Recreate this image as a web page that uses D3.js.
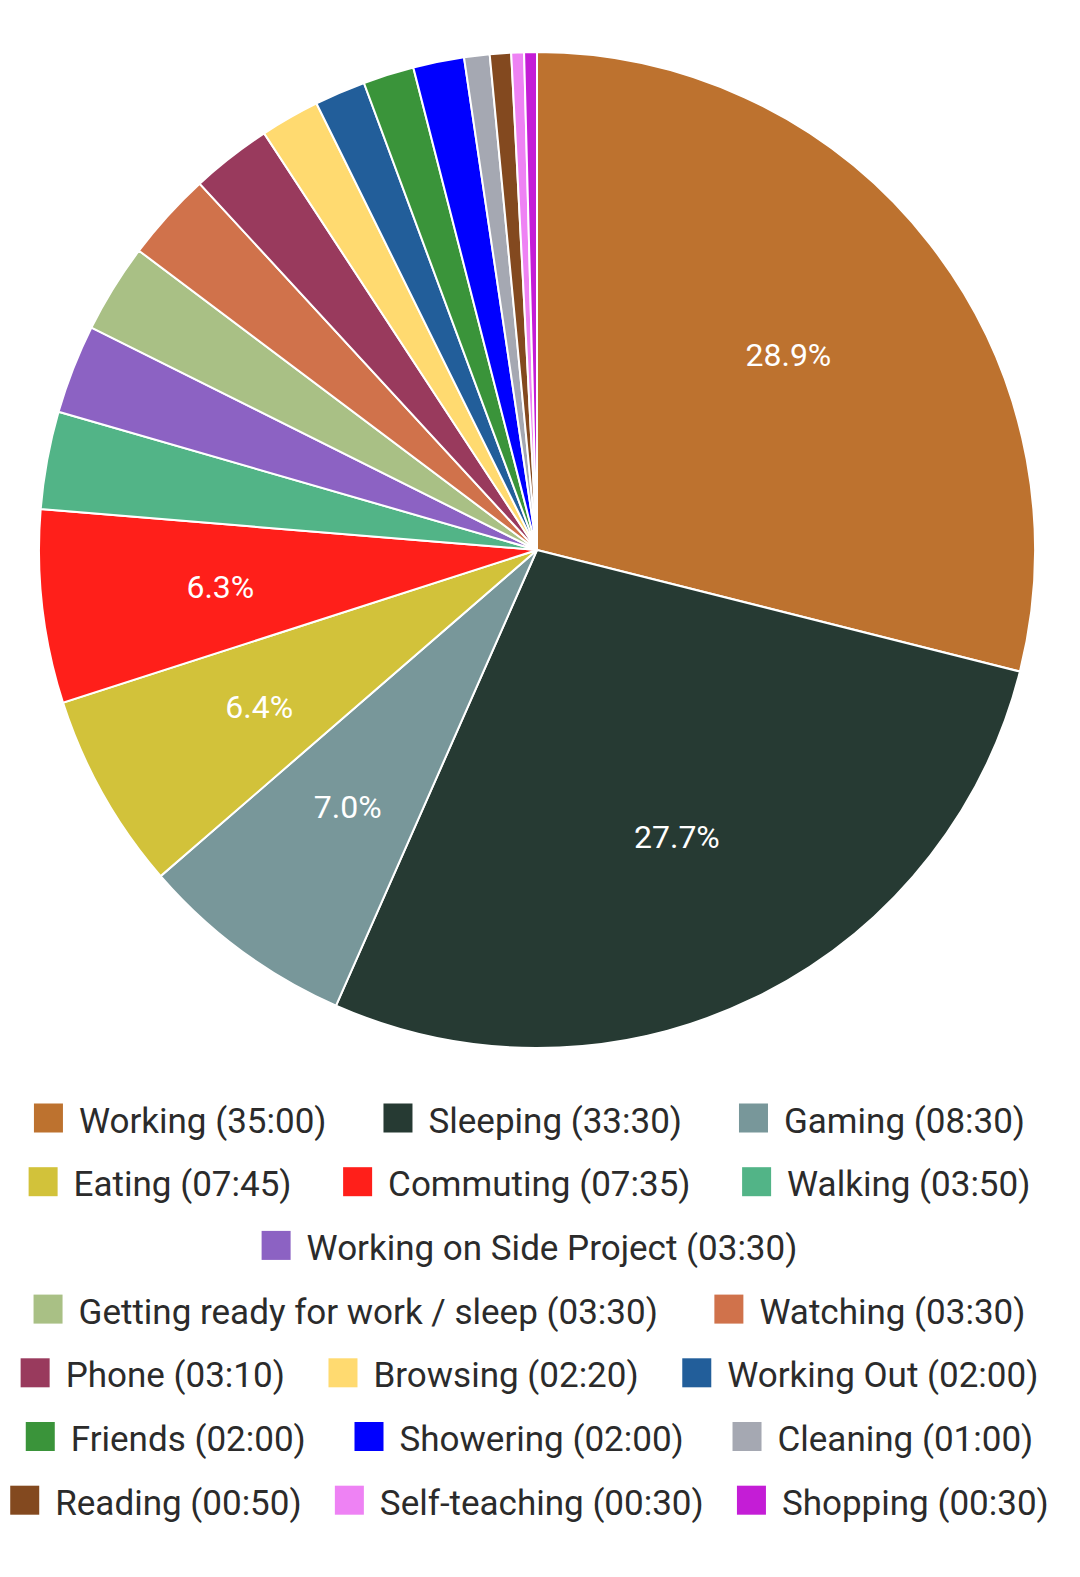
<!DOCTYPE html>
<html>
    <head>
        <meta charset="utf-8">
        <title></title>
        <script src="https://d3js.org/d3.v7.min.js"></script>
        <style>
            body { margin: 0; background: #fff; }
        </style>
    </head>

    <body>
        <div id="my_dataviz"></div>
    </body>

    <script>
        // data (minutes per activity)
        var activities = ["Working", "Sleeping", "Gaming", "Eating", "Commuting", "Walking",
            "Working on Side Project", "Getting ready for work / sleep", "Watching", "Phone",
            "Browsing", "Working Out", "Friends", "Showering", "Cleaning", "Reading",
            "Self-teaching", "Shopping"]
        var durations = ["35:00", "33:30", "08:30", "07:45", "07:35", "03:50",
            "03:30", "03:30", "03:30", "03:10",
            "02:20", "02:00", "02:00", "02:00", "01:00", "00:50",
            "00:30", "00:30"]
        var colors = ["#bd722f", "#263a33", "#78979a", "#d2c23a", "#ff1f1a", "#52b487",
            "#8c62c3", "#a9c085", "#d0724b", "#993a5d",
            "#ffda70", "#225e9a", "#3a943a", "#0000ff", "#a5a8b2", "#83491f",
            "#ee82f4", "#c41dd6"]

        var minutes = durations.map(function(s) {
            var p = s.split(":")
            return +p[0] * 60 + +p[1]
        })

        var data = activities.map(function(a, i) {
            return { name: a, label: a + " (" + durations[i] + ")", value: minutes[i], color: colors[i] }
        })

        var width = 1080
        var height = 1577
        var cx = 537, cy = 550, radius = 498

        var svg = d3.select("#my_dataviz")
        .append("svg")
        .attr("width", width)
        .attr("height", height)
        .style("font-family", "Roboto, sans-serif")

        var total = d3.sum(minutes)

        var pie = d3.pie()
        .sort(null)
        .value(function(d) { return d.value })

        var arc = d3.arc()
        .innerRadius(0)
        .outerRadius(radius)

        var labelArc = d3.arc()
        .innerRadius(radius * 0.64)
        .outerRadius(radius * 0.64)

        var g = svg.append("g")
        .attr("transform", "translate(" + cx + "," + cy + ")")

        var arcs = pie(data)

        g.selectAll("path")
        .data(arcs)
        .enter()
        .append("path")
        .attr("d", arc)
        .style("fill", function(d) { return d.data.color })
        .style("stroke", "#fff")
        .style("stroke-width", 2)

        // percentage labels only on the big slices
        g.selectAll("text.pct")
        .data(arcs.filter(function(d) { return d.data.value / total >= 0.05 }))
        .enter()
        .append("text")
        .attr("class", "pct")
        .attr("transform", function(d) { return "translate(" + labelArc.centroid(d) + ")" })
        .attr("text-anchor", "middle")
        .attr("dy", "0.36em")
        .style("fill", "#fff")
        .style("font-size", "32px")
        .text(function(d) { return (d.data.value / total * 100).toFixed(1) + "%" })

        // legend: rows of items spread with equal gaps across the legend band
        var fontSize = 35
        var swatch = 29, swatchGap = 16, minGap = 20
        var bandX = -23, bandW = 1105
        var firstRowY = 1120, rowStep = 63.7

        var legend = svg.append("g")

        var items = legend.selectAll("g.item")
        .data(data)
        .enter()
        .append("g")
        .attr("class", "item")

        items.append("rect")
        .attr("width", swatch)
        .attr("height", swatch)
        .attr("y", -swatch / 2 - 2)
        .style("fill", function(d) { return d.color })

        items.append("text")
        .attr("x", swatch + swatchGap)
        .attr("dy", "0.36em")
        .style("font-size", fontSize + "px")
        .style("fill", "#2b2b2b")
        .text(function(d) { return d.label })

        var rows = [], row = [], rowW = 0
        items.each(function(d) {
            var w = swatch + swatchGap + d3.select(this).select("text").node().getComputedTextLength()
            if (row.length && (bandW - rowW - w) / (row.length + 2) < minGap) {
                rows.push({ items: row, width: rowW })
                row = []
                rowW = 0
            }
            row.push({ node: this, w: w })
            rowW += w
        })
        if (row.length) rows.push({ items: row, width: rowW })

        rows.forEach(function(r, ri) {
            var gap = (bandW - r.width) / (r.items.length + 1)
            var x = bandX + gap
            r.items.forEach(function(it) {
                d3.select(it.node).attr("transform", "translate(" + x + "," + (firstRowY + ri * rowStep) + ")")
                x += it.w + gap
            })
        })
    </script>
</html>
